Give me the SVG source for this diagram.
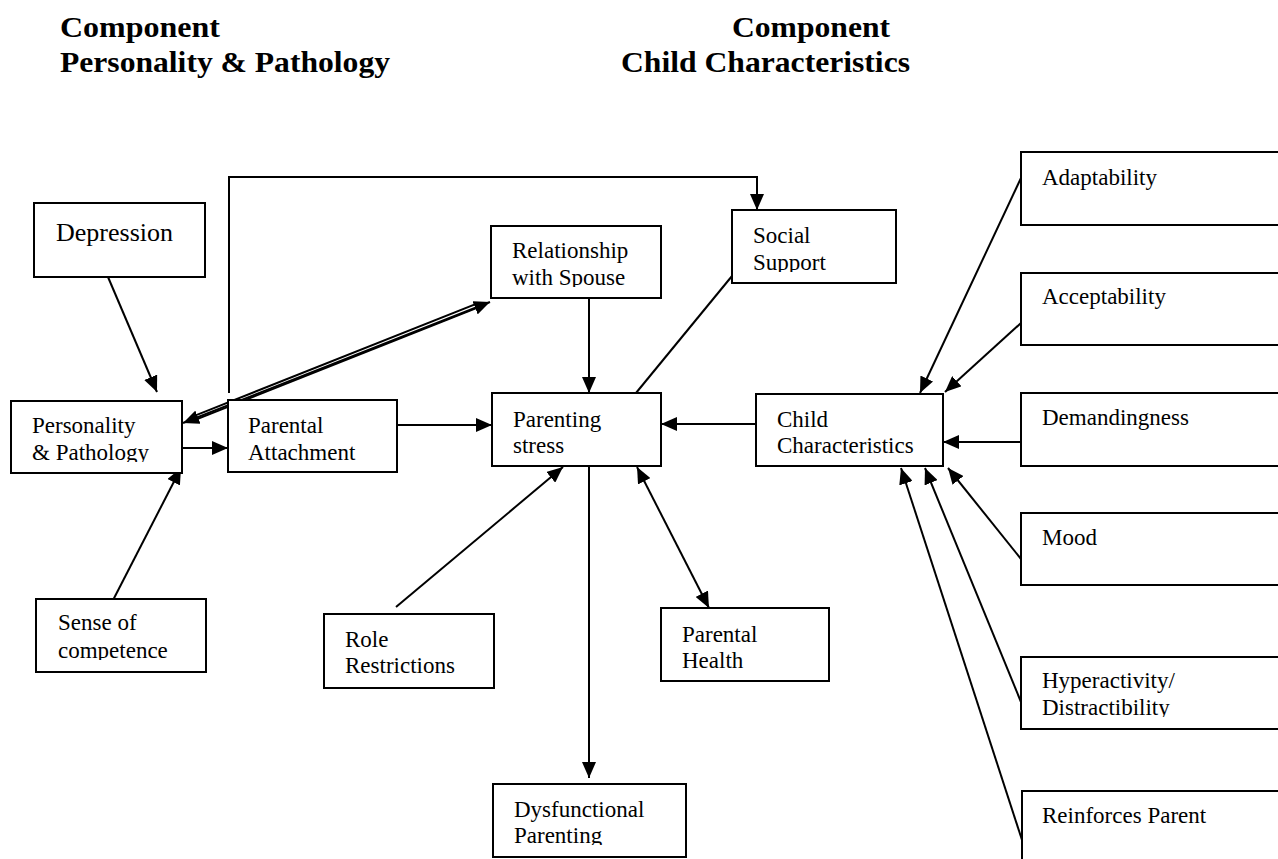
<svg xmlns="http://www.w3.org/2000/svg" width="1278" height="859" viewBox="0 0 1278 859">
<style>
.box{fill:#fff;stroke:#000;stroke-width:2}
.t{font-family:"Liberation Serif","Times New Roman",serif;font-size:23px;fill:#000}
.title{font-family:"Liberation Serif","Times New Roman",serif;font-size:30px;font-weight:bold;fill:#000}
.c{fill:none;stroke:#000;stroke-width:2}
.dbl{fill:none;stroke:#000;stroke-width:6}
.dblin{fill:none;stroke:#fff;stroke-width:2}
</style>
<defs>
<marker id="arr" markerUnits="userSpaceOnUse" markerWidth="16" markerHeight="14" viewBox="0 0 16 14" refX="16" refY="7" orient="auto-start-reverse">
<path d="M0,0 L16,7 L0,14 z" fill="#000"/>
</marker>
<clipPath id="cp-pers"><rect x="11" y="401" width="171" height="61"/></clipPath>
<clipPath id="cp-spouse"><rect x="491" y="226" width="170" height="61"/></clipPath>
<clipPath id="cp-social"><rect x="732" y="210" width="164" height="62"/></clipPath>
<clipPath id="cp-sense"><rect x="36" y="599" width="170" height="61"/></clipPath>
<clipPath id="cp-hyper"><rect x="1021" y="657" width="257" height="60"/></clipPath>
<clipPath id="cp-dysf"><rect x="493" y="784" width="193" height="61"/></clipPath>
</defs>
<rect width="1278" height="859" fill="#fff"/>

<g id="titles">
<text class="title" x="60" y="37" textLength="160" lengthAdjust="spacingAndGlyphs">Component</text>
<text class="title" x="60" y="72" textLength="330" lengthAdjust="spacingAndGlyphs">Personality &amp; Pathology</text>
<text class="title" x="732" y="37" textLength="158" lengthAdjust="spacingAndGlyphs">Component</text>
<text class="title" x="621" y="72" textLength="289" lengthAdjust="spacingAndGlyphs">Child Characteristics</text>
</g>

<g id="connectors">
<path class="c" d="M108,277 L157,392" marker-end="url(#arr)"/>
<path class="c" d="M110,606 L181,468" marker-end="url(#arr)"/>
<path class="c" d="M182,448 L228,448" marker-end="url(#arr)"/>
<path class="dbl" d="M197,417 L475,306.5"/>
<path class="dblin" d="M195,417.8 L477,305.7"/>
<path class="c" d="M183,423 L490,302" marker-start="url(#arr)" marker-end="url(#arr)" stroke="none"/>
<path class="c" d="M229,393 L229,177 L757,177 L757,210" marker-end="url(#arr)"/>
<path class="c" d="M397,425 L492,425" marker-end="url(#arr)"/>
<path class="c" d="M589,298 L589,393" marker-end="url(#arr)"/>
<path class="c" d="M732,276 L613,421"/>
<path class="c" d="M756,424 L661,424" marker-end="url(#arr)"/>
<path class="c" d="M396,607 L563,467" marker-end="url(#arr)"/>
<path class="c" d="M589,466 L589,778" marker-end="url(#arr)"/>
<path class="c" d="M637,467 L709,608" marker-start="url(#arr)" marker-end="url(#arr)"/>
<path class="c" d="M1021,178 L920,393" marker-end="url(#arr)"/>
<path class="c" d="M1021,323 L945,392" marker-end="url(#arr)"/>
<path class="c" d="M1021,442 L943,442" marker-end="url(#arr)"/>
<path class="c" d="M1021,559 L948,468" marker-end="url(#arr)"/>
<path class="c" d="M1021,702 L925,468" marker-end="url(#arr)"/>
<path class="c" d="M1022,840 L901,468" marker-end="url(#arr)"/>
</g>

<g id="depression"><rect class="box" x="34" y="203" width="171" height="74"/><text class="t" x="56" y="241" style="font-size:26px">Depression</text></g>
<g id="personality"><rect class="box" x="11" y="401" width="171" height="72"/><text class="t" clip-path="url(#cp-pers)"><tspan x="32" y="433">Personality</tspan><tspan x="32" y="460">&amp; Pathology</tspan></text></g>
<g id="parental-attachment"><rect class="box" x="228" y="400" width="169" height="72"/><text class="t"><tspan x="248" y="433">Parental</tspan><tspan x="248" y="460">Attachment</tspan></text></g>
<g id="spouse"><rect class="box" x="491" y="226" width="170" height="72"/><text class="t" clip-path="url(#cp-spouse)"><tspan x="512" y="258">Relationship</tspan><tspan x="512" y="285">with Spouse</tspan></text></g>
<g id="social-support"><rect class="box" x="732" y="210" width="164" height="73"/><text class="t" clip-path="url(#cp-social)"><tspan x="753" y="243">Social</tspan><tspan x="753" y="270">Support</tspan></text></g>
<g id="parenting-stress"><rect class="box" x="492" y="393" width="169" height="73"/><text class="t"><tspan x="513" y="427">Parenting</tspan><tspan x="513" y="453">stress</tspan></text></g>
<g id="child-characteristics"><rect class="box" x="756" y="394" width="187" height="72"/><text class="t"><tspan x="777" y="427">Child</tspan><tspan x="777" y="453">Characteristics</tspan></text></g>
<g id="adaptability"><rect class="box" x="1021" y="152" width="270" height="73"/><text class="t" x="1042" y="185">Adaptability</text></g>
<g id="acceptability"><rect class="box" x="1021" y="273" width="270" height="72"/><text class="t" x="1042" y="304">Acceptability</text></g>
<g id="demandingness"><rect class="box" x="1021" y="393" width="270" height="73"/><text class="t" x="1042" y="425">Demandingness</text></g>
<g id="mood"><rect class="box" x="1021" y="513" width="270" height="72"/><text class="t" x="1042" y="545">Mood</text></g>
<g id="hyperactivity"><rect class="box" x="1021" y="657" width="270" height="72"/><text class="t" clip-path="url(#cp-hyper)"><tspan x="1042" y="688">Hyperactivity/</tspan><tspan x="1042" y="715">Distractibility</tspan></text></g>
<g id="reinforces-parent"><rect class="box" x="1022" y="791" width="270" height="80"/><text class="t" x="1042" y="823">Reinforces Parent</text></g>
<g id="sense-of-competence"><rect class="box" x="36" y="599" width="170" height="73"/><text class="t" clip-path="url(#cp-sense)"><tspan x="58" y="630">Sense of</tspan><tspan x="58" y="658">competence</tspan></text></g>
<g id="role-restrictions"><rect class="box" x="324" y="614" width="170" height="74"/><text class="t"><tspan x="345" y="647">Role</tspan><tspan x="345" y="673">Restrictions</tspan></text></g>
<g id="parental-health"><rect class="box" x="661" y="608" width="168" height="73"/><text class="t"><tspan x="682" y="642">Parental</tspan><tspan x="682" y="668">Health</tspan></text></g>
<g id="dysfunctional-parenting"><rect class="box" x="493" y="784" width="193" height="73"/><text class="t" clip-path="url(#cp-dysf)"><tspan x="514" y="817">Dysfunctional</tspan><tspan x="514" y="843">Parenting</tspan></text></g>
</svg>
